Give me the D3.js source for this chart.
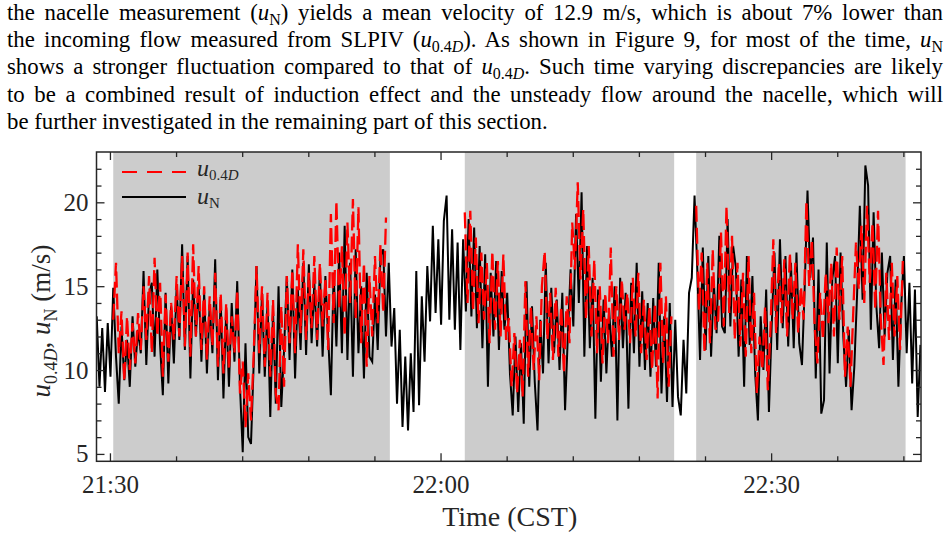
<!DOCTYPE html>
<html><head><meta charset="utf-8">
<script src="https://cdn.jsdelivr.net/npm/d3@7"></script>
<style>
html,body{margin:0;padding:0;background:#fff;}
body{width:950px;height:536px;overflow:hidden;position:relative;font-family:"Liberation Serif","Times New Roman",serif;}
#para{position:absolute;left:7px;top:-1px;width:936px;font-size:22.8px;line-height:27.2px;color:#000;z-index:2;}
#para div{white-space:nowrap;text-align:justify;text-align-last:justify;height:27.2px;}
#para div.last{text-align:left;text-align-last:left;}
#para i{font-style:italic;}
#para .sb{font-size:0.7em;position:relative;top:0.3em;line-height:0;}
svg{position:absolute;left:0;top:0;}
</style></head>
<body>
<div id="para">
<div>the nacelle measurement (<i>u</i><span class="sb">N</span>) yields a mean velocity of 12.9 m/s, which is about 7% lower than</div>
<div>the incoming flow measured from SLPIV (<i>u</i><span class="sb">0.4<i>D</i></span>). As shown in Figure 9, for most of the time, <i>u</i><span class="sb">N</span></div>
<div>shows a stronger fluctuation compared to that of <i>u</i><span class="sb">0.4<i>D</i></span>. Such time varying discrepancies are likely</div>
<div>to be a combined result of induction effect and the unsteady flow around the nacelle, which will</div>
<div class="last">be further investigated in the remaining part of this section.</div>
</div>
<svg id="chart" width="950" height="536"></svg>
<script>
// ---------------- data ----------------
const xDomain = [-1.22, 73.6];          // minutes after 21:30
const yDomain = [4.56, 23];
const shadeStart = [0.3, 32.2, 53.2];
const shadeEnd   = [25.4, 51.2, 72.2];
const xMajorTicks = [0, 30, 60];
const xTickLabels = ["21:30", "22:00", "22:30"];
const xMinorTicks = [6, 12, 18, 24, 36, 42, 48, 54, 66, 72];
const yMajorTicks = [5, 10, 15, 20];
const yMinorTicks = [6, 7, 8, 9, 11, 12, 13, 14, 16, 17, 18, 19, 21, 22];

// u_N (nacelle), sampled every 0.25 min from t = -1.2 min
const uNStart = -1.2, sampleStep = 0.25;
const uN = [
13.2,9.0,12.5,8.7, 12.8,9.6,14.9,10.8, 8.0,12.6,9.4,11.8, 9.0,13.2,10.2,12.4, 11.0,15.9,10.3,14.5,
15.2,10.8,16.0,11.5, 8.5,14.6,9.2,13.8, 10.4,14.9,11.8,17.5, 11.2,16.8,9.5,15.4, 12.0,15.1,10.5,14.6,
9.8,13.9,11.0,16.6, 9.4,14.2,8.3,13.6, 9.0,14.0,10.5,15.3, 9.0,5.1,11.6,6.0, 5.6,10.5,16.2,9.8,
14.6,9.6,14.0,7.2, 13.5,8.0,15.0,7.8, 11.2,15.6,10.6,16.0, 9.5,14.8,11.2,16.4, 10.9,16.3,11.6,15.2,
11.4,16.0,10.8,15.6, 12.0,8.5,15.8,11.4, 17.0,11.0,18.6,10.6, 16.4,9.6,17.2,11.0, 15.0,9.5,15.8,10.8,
10.5,14.5,11.2,16.8, 17.2,12.0,16.4,11.4, 13.7,8.0,12.4,6.6, 10.8,6.4,11.0,7.5, 15.9,7.9,14.4,10.5,
16.2,12.9,18.6,13.4, 17.8,12.7,18.9,20.4, 13.0,18.4,12.4,17.6, 11.2,17.8,13.5,19.0, 13.2,18.5,12.5,17.4,
11.3,16.9,9.0,15.8, 12.0,16.5,11.2,15.9, 12.4,14.6,9.8,7.3, 12.0,7.5,11.6,6.8, 15.3,9.0,13.8,9.3,
6.4,13.0,9.8,16.4, 10.4,14.9,11.0,14.2, 10.0,14.6,7.6,12.0, 16.0,12.6,19.3,14.0, 20.6,10.8,17.4,11.3,
15.5,7.1,14.8,9.3, 14.2,9.8,13.6,10.8, 15.0,7.0,15.5,11.3, 14.6,7.7,15.2,11.0, 16.4,10.2,14.7,10.0,
14.0,9.6,14.3,10.2, 16.4,8.6,13.2,8.1, 14.0,7.8,13.0,8.4, 7.3,11.8,8.6,14.6, 15.5,20.4,16.0,10.6,
17.3,11.2,16.8,10.8, 15.2,12.2,18.0,12.6, 12.2,19.0,12.6,17.4, 16.1,10.8,15.4,9.0, 16.8,11.5,15.6,9.8,
7.0,13.2,10.0,14.8, 7.5,12.6,17.0,11.2, 17.8,12.5,16.8,11.4, 16.4,11.3,17.0,11.6, 10.3,15.0,20.7,15.5,
17.9,9.5,16.0,7.4, 8.2,17.6,9.8,15.4, 16.8,10.4,17.0,12.0, 9.0,12.4,7.6,10.2, 14.5,19.8,14.2,22.2,
21.0,12.4,19.4,13.8, 11.3,17.0,12.0,15.8, 16.8,10.6,15.4,9.0, 13.8,16.8,11.0,15.2, 9.2,14.8,7.2,11.5
];

// u_0.4D (SLPIV), three measurement windows, same sampling step
const u04DStart = [0.3, 32.2, 53.2];
const u04D_1 = [
13.0,16.4,11.0,13.5, 9.3,13.2,10.0,12.8, 10.4,13.4,11.2,15.0, 11.8,15.6,11.0,16.7, 12.0,15.2,9.6,14.5,
10.5,14.0,11.8,15.6, 12.0,16.8,11.4,17.0, 10.8,17.5,12.0,16.2, 11.2,15.0,10.6,14.4, 11.4,15.8,10.2,14.6,
9.8,14.0,10.0,13.2, 11.0,14.8,8.6,10.5, 6.6,9.8,7.0,11.0, 16.2,11.0,15.0,10.2, 14.6,9.6,14.2,8.6,
7.6,13.8,9.0,15.6, 11.6,16.0,11.0,17.5, 12.2,17.2,11.8,15.8, 12.5,16.8,11.8,16.4, 12.6,15.5,11.2,19.3,
12.8,20.1,13.6,17.4, 12.0,18.8,14.0,20.2, 13.0,19.7,11.6,16.4, 10.2,15.6,12.0,16.8, 12.8,17.5,13.4,19.1
];
const u04D_2 = [
19.4,14.0,19.5,13.5, 17.9,12.8,17.0,13.0, 16.4,11.6,17.1,12.4, 16.5,12.0,16.9,11.8, 13.1,9.0,12.2,8.6,
11.8,8.4,15.3,9.6, 13.8,10.0,13.2,9.4, 15.0,17.1,11.8,14.6, 10.6,14.9,10.8,13.8, 9.8,14.4,11.6,18.8,
16.0,21.2,15.4,19.6, 13.0,17.4,12.0,16.6, 11.0,15.0,10.4,14.6, 11.6,17.3,10.8,15.0, 11.8,15.4,12.4,14.6,
11.6,15.5,12.0,15.8, 11.0,14.2,10.6,13.8, 10.0,14.0,8.3,16.4, 10.4,14.4,9.0,13.2
];
const u04D_3 = [
19.8,13.6,17.0,11.0, 16.4,11.6,17.2,12.4, 13.0,18.2,12.6,19.8, 13.4,18.0,11.8,16.4, 11.4,15.8,10.8,16.8,
11.0,14.6,8.6,12.0, 10.0,13.8,8.8,12.6, 17.8,12.2,16.4,12.8, 16.6,12.0,17.0,13.0, 16.4,12.2,15.0,13.0,
20.1,15.0,17.8,12.6, 10.4,14.6,11.8,15.8, 12.8,16.4,12.0,17.3, 13.0,16.8,9.6,12.6, 9.0,13.4,17.6,14.8,
18.6,14.0,19.8,15.2, 18.8,13.6,19.5,13.0, 10.3,15.8,11.8,16.4, 12.0,15.6,11.2,16.5
];

// ---------------- drawing ----------------
const L = 96.5, R = 921, T = 152, B = 461.3;
const axisColor = "#262626";
const serif = '"Liberation Serif","Times New Roman",serif';
const svg = d3.select("#chart");
const x = d3.scaleLinear().domain(xDomain).range([L, R]);
const y = d3.scaleLinear().domain(yDomain).range([B, T]);

svg.append("defs").append("clipPath").attr("id", "clip")
  .append("rect").attr("x", L).attr("y", T).attr("width", R - L).attr("height", B - T);

svg.append("g").selectAll("rect").data(shadeStart).join("rect")
  .attr("x", (d) => x(d)).attr("y", T)
  .attr("width", (d, i) => x(shadeEnd[i]) - x(d)).attr("height", B - T)
  .attr("fill", "#cccccc");

const toPts = (arr, t0) => arr.map((v, i) => [t0 + i * sampleStep, v]);
const line = d3.line().x((d) => x(d[0])).y((d) => y(d[1]));
const plot = svg.append("g").attr("clip-path", "url(#clip)");

plot.append("path").datum(toPts(uN, uNStart))
  .attr("d", line).attr("fill", "none").attr("stroke", "#000")
  .attr("stroke-width", 2);

[u04D_1, u04D_2, u04D_3].forEach((arr, k) => {
  plot.append("path").datum(toPts(arr, u04DStart[k]))
    .attr("d", line).attr("fill", "none").attr("stroke", "#ff0000")
    .attr("stroke-width", 2.3).attr("stroke-dasharray", "16,6");
});

function styleAxis(g) {
  g.select(".domain").remove();
  g.selectAll("line").attr("stroke", axisColor).attr("stroke-width", 1.3);
  g.selectAll("text").attr("fill", axisColor)
    .style("font-family", serif).style("font-size", "25px");
}
svg.append("g").attr("transform", `translate(0,${B})`)
  .call(d3.axisBottom(x).tickValues(xMajorTicks).tickFormat((d, i) => xTickLabels[i]).tickSize(-8).tickPadding(14))
  .call(styleAxis);
svg.append("g").attr("transform", `translate(0,${B})`)
  .call(d3.axisBottom(x).tickValues(xMinorTicks).tickFormat("").tickSize(-5)).call(styleAxis);
svg.append("g").attr("transform", `translate(0,${T})`)
  .call(d3.axisTop(x).tickValues(xMajorTicks).tickFormat("").tickSize(-8)).call(styleAxis);
svg.append("g").attr("transform", `translate(0,${T})`)
  .call(d3.axisTop(x).tickValues(xMinorTicks).tickFormat("").tickSize(-5)).call(styleAxis);
svg.append("g").attr("transform", `translate(${L},0)`)
  .call(d3.axisLeft(y).tickValues(yMajorTicks).tickFormat(d3.format("d")).tickSize(-8).tickPadding(8))
  .call(styleAxis);
svg.append("g").attr("transform", `translate(${L},0)`)
  .call(d3.axisLeft(y).tickValues(yMinorTicks).tickFormat("").tickSize(-5)).call(styleAxis);
svg.append("g").attr("transform", `translate(${R},0)`)
  .call(d3.axisRight(y).tickValues(yMajorTicks).tickFormat("").tickSize(-8)).call(styleAxis);
svg.append("g").attr("transform", `translate(${R},0)`)
  .call(d3.axisRight(y).tickValues(yMinorTicks).tickFormat("").tickSize(-5)).call(styleAxis);

svg.append("rect").attr("x", L).attr("y", T).attr("width", R - L).attr("height", B - T)
  .attr("fill", "none").attr("stroke", axisColor).attr("stroke-width", 1.5);

svg.append("text").attr("x", (L + R) / 2 + 1).attr("y", 526).attr("text-anchor", "middle")
  .attr("fill", axisColor).style("font-family", serif).style("font-size", "28px").text("Time (CST)");

function mathLabel(sel, parts, big, small) {
  parts.forEach((p) => {
    const t = sel.append("tspan").text(p.t)
      .style("font-size", (p.sub ? small : big) + "px")
      .style("font-style", p.it ? "italic" : "normal");
    if (p.dy) t.attr("dy", p.dy);
  });
}
const yt = svg.append("text").attr("transform", "translate(50,321) rotate(-90)")
  .attr("text-anchor", "middle").attr("fill", axisColor).style("font-family", serif);
mathLabel(yt, [
  {t: "u", it: true}, {t: "0.4", sub: true, dy: 7}, {t: "D", sub: true, it: true},
  {t: ", ", dy: -7}, {t: "u", it: true}, {t: "N", sub: true, dy: 7}, {t: " (m/s)", dy: -7}
], 27, 18);

// legend
const lg = svg.append("g");
lg.append("line").attr("x1", 122).attr("x2", 186).attr("y1", 172).attr("y2", 172)
  .attr("stroke", "#ff0000").attr("stroke-width", 2).attr("stroke-dasharray", "15,10");
lg.append("line").attr("x1", 122).attr("x2", 186).attr("y1", 197).attr("y2", 197)
  .attr("stroke", "#000").attr("stroke-width", 2);
const l1 = lg.append("text").attr("x", 197).attr("y", 176).attr("fill", axisColor).style("font-family", serif);
mathLabel(l1, [{t: "u", it: true}, {t: "0.4", sub: true, dy: 4}, {t: "D", sub: true, it: true}], 24, 15);
const l2 = lg.append("text").attr("x", 197).attr("y", 204).attr("fill", axisColor).style("font-family", serif);
mathLabel(l2, [{t: "u", it: true}, {t: "N", sub: true, dy: 4}], 24, 15);
</script>
</body></html>
